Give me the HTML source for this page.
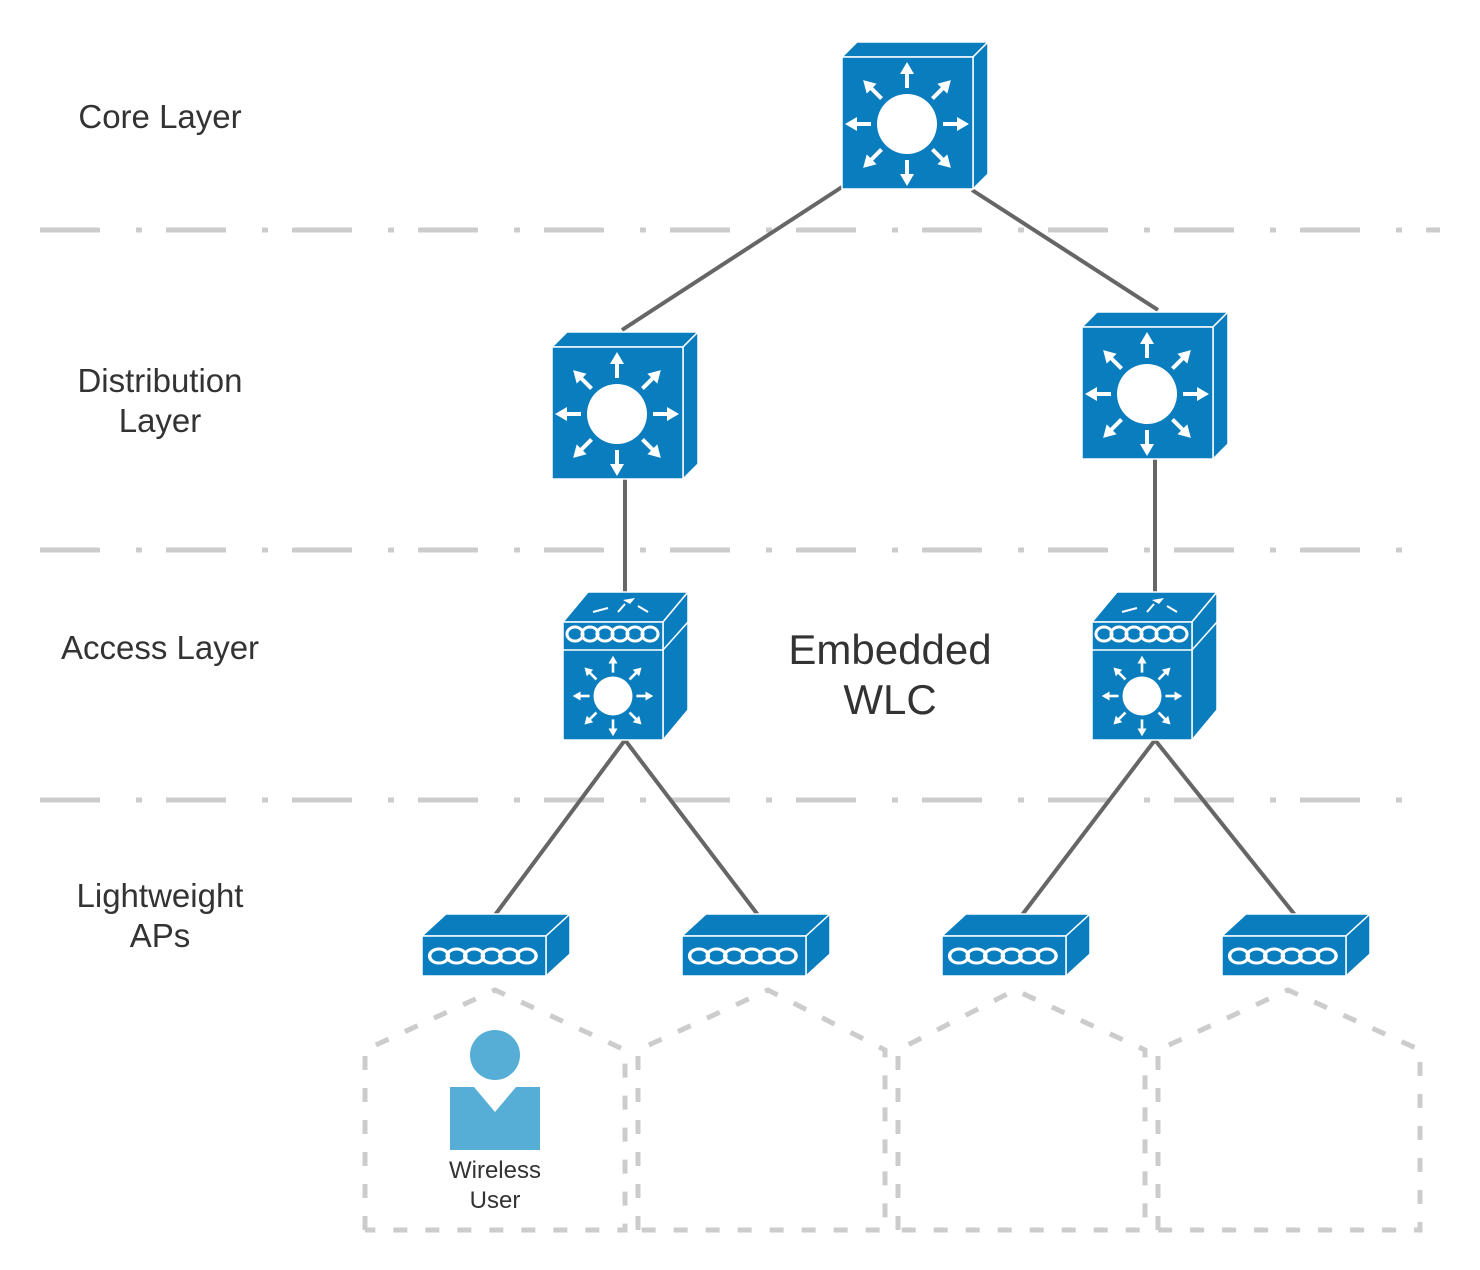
<!DOCTYPE html>
<html><head><meta charset="utf-8"><style>
html,body{margin:0;padding:0;background:#fff;}
svg{display:block;}
text{font-family:"Liberation Sans",sans-serif;fill:#333;}
</style></head><body>
<svg width="1480" height="1270" viewBox="0 0 1480 1270" xmlns="http://www.w3.org/2000/svg">
<defs>
<g id="arr">
 <line x1="0" y1="-36" x2="0" y2="-52" stroke="#fff" stroke-width="4"/>
 <polygon points="0,-62 -7,-50 7,-50" fill="#fff"/>
</g>
<g id="star">
 <circle r="30" fill="#fff"/>
 <use href="#arr"/><use href="#arr" transform="rotate(45)"/><use href="#arr" transform="rotate(90)"/><use href="#arr" transform="rotate(135)"/>
 <use href="#arr" transform="rotate(180)"/><use href="#arr" transform="rotate(225)"/><use href="#arr" transform="rotate(270)"/><use href="#arr" transform="rotate(315)"/>
</g>
<g id="l3">
 <polygon points="0,15 15,0 146,0 131,15" fill="#0a7dbe" stroke="#fff" stroke-width="1.5"/>
 <polygon points="131,15 146,0 146,132 131,147" fill="#0a7dbe" stroke="#fff" stroke-width="1.5"/>
 <rect x="0" y="15" width="131" height="132" fill="#0a7dbe" stroke="#fff" stroke-width="1.5"/>
 <use href="#star" transform="translate(65,82)"/>
</g>
<g id="wave">
 <g fill="none" stroke="#fff" stroke-width="3">
  <ellipse cx="0" cy="0" rx="8" ry="7"/><ellipse cx="15" cy="0" rx="8" ry="7"/><ellipse cx="30" cy="0" rx="8" ry="7"/>
  <ellipse cx="45" cy="0" rx="8" ry="7"/><ellipse cx="60" cy="0" rx="8" ry="7"/><ellipse cx="75" cy="0" rx="8" ry="7"/>
 </g>
</g>
<g id="acc">
 <polygon points="0,30 25,0 125,0 100,30" fill="#0a7dbe" stroke="#fff" stroke-width="1.5"/>
 <polygon points="100,30 125,0 125,118 100,148" fill="#0a7dbe" stroke="#fff" stroke-width="1.5"/>
 <line x1="100" y1="58" x2="125" y2="30" stroke="#fff" stroke-width="1.5"/>
 <rect x="0" y="30" width="100" height="118" fill="#0a7dbe" stroke="#fff" stroke-width="1.5"/>
 <line x1="0" y1="58" x2="100" y2="58" stroke="#fff" stroke-width="1.5"/>
 <use href="#wave" transform="translate(12,42)"/>
 <polygon points="60,8 72,6 67,12" fill="#fff"/>
 <line x1="30" y1="20" x2="45" y2="16" stroke="#fff" stroke-width="2"/>
 <line x1="55" y1="20" x2="62" y2="12" stroke="#fff" stroke-width="2"/>
 <line x1="75" y1="14" x2="85" y2="20" stroke="#fff" stroke-width="2"/>
 <use href="#star" transform="translate(50,104) scale(0.65)"/>
</g>
<g id="ap">
 <polygon points="0,24 24,2 148,2 124,24" fill="#0a7dbe" stroke="#fff" stroke-width="1.5"/>
 <polygon points="124,24 148,2 148,42 124,64" fill="#0a7dbe" stroke="#fff" stroke-width="1.5"/>
 <rect x="0" y="24" width="124" height="40" fill="#0a7dbe" stroke="#fff" stroke-width="1.5"/>
 <use href="#wave" transform="translate(17,44) scale(1.17,1)"/>
</g>
</defs>

<g stroke="#cccccc" stroke-width="5" fill="none" stroke-dasharray="60 36 6 24">
 <line x1="40" y1="230" x2="1440" y2="230"/>
 <line x1="40" y1="550" x2="1420" y2="550"/>
 <line x1="40" y1="800" x2="1420" y2="800"/>
</g>

<g stroke="#666" stroke-width="4">
 <line x1="842" y1="187" x2="622" y2="330"/>
 <line x1="972" y1="190" x2="1158" y2="310"/>
 <line x1="625" y1="478" x2="625" y2="592"/>
 <line x1="1155" y1="459" x2="1155" y2="592"/>
 <line x1="625" y1="740" x2="495" y2="915"/>
 <line x1="625" y1="740" x2="758" y2="915"/>
 <line x1="1155" y1="740" x2="1022" y2="915"/>
 <line x1="1155" y1="740" x2="1295" y2="915"/>
</g>

<g stroke="#cccccc" stroke-width="5" fill="none" stroke-dasharray="14 18">
 <polyline points="365,1230 365,1050 495,990 625,1050 625,1230 365,1230"/>
 <polyline points="638,1230 638,1050 768,990 885,1050 885,1230 638,1230"/>
 <polyline points="898,1230 898,1050 1015,990 1145,1050 1145,1230 898,1230"/>
 <polyline points="1158,1230 1158,1050 1288,990 1420,1050 1420,1230 1158,1230"/>
</g>

<use href="#l3" transform="translate(842,42)"/>
<use href="#l3" transform="translate(552,332)"/>
<use href="#l3" transform="translate(1082,312)"/>
<use href="#acc" transform="translate(563,592)"/>
<use href="#acc" transform="translate(1092,592)"/>
<use href="#ap" transform="translate(422,912)"/>
<use href="#ap" transform="translate(682,912)"/>
<use href="#ap" transform="translate(942,912)"/>
<use href="#ap" transform="translate(1222,912)"/>

<circle cx="495" cy="1055" r="25" fill="#56aed6"/>
<polygon points="450,1087 474,1087 495,1112 516,1087 540,1087 540,1150 450,1150" fill="#56aed6"/>
<text x="495" y="1178" font-size="24" text-anchor="middle" fill="#222">Wireless</text>
<text x="495" y="1208" font-size="24" text-anchor="middle" fill="#222">User</text>

<g font-size="33" text-anchor="middle">
 <text x="160" y="128">Core Layer</text>
 <text x="160" y="392">Distribution</text>
 <text x="160" y="432">Layer</text>
 <text x="160" y="659">Access Layer</text>
 <text x="160" y="907">Lightweight</text>
 <text x="160" y="947">APs</text>
</g>
<text x="890" y="664" font-size="42" text-anchor="middle">Embedded</text>
<text x="890" y="714" font-size="42" text-anchor="middle">WLC</text>
</svg>
</body></html>
